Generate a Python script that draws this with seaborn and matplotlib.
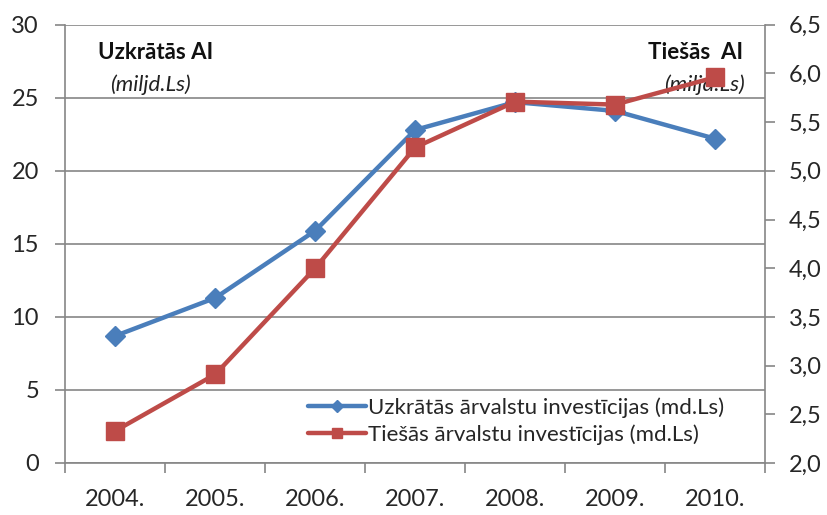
import matplotlib
matplotlib.use("Agg")
import matplotlib.pyplot as plt
import numpy as np
import pandas as pd
import seaborn as sns

years = ["2004.", "2005.", "2006.", "2007.", "2008.", "2009.", "2010."]
uzkratas = [8.7, 11.3, 15.9, 22.8, 24.7, 24.1, 22.2]
tiesas = [2.33, 2.91, 4.00, 5.24, 5.71, 5.68, 5.96]

left_ticks = [0, 5, 10, 15, 20, 25, 30]
right_ticks = [2.0, 2.5, 3.0, 3.5, 4.0, 4.5, 5.0, 5.5, 6.0, 6.5]

BLUE = "#4a7ebb"
RED = "#be4b48"
GRID = "#868686"

sns.set_style("white")
plt.rcParams["font.family"] = ["Lato", "DejaVu Sans"]

df = pd.DataFrame({"year": years, "uzk": uzkratas, "ties": tiesas})
x = np.arange(len(years)) + 0.5

fig = plt.figure(figsize=(8.27, 5.15), dpi=100)
ax = fig.add_axes([0.079, 0.101, 0.846, 0.851])
ax2 = ax.twinx()

l1, = ax.plot(x, df["uzk"], color=BLUE, lw=3.2, marker="D", ms=10,
              label="Uzkrātās ārvalstu investīcijas (md.Ls)")
l2, = ax2.plot(x, df["ties"], color=RED, lw=3.2, marker="s", ms=13,
               label="Tiešās ārvalstu investīcijas (md.Ls)")

ax.set_xlim(0, len(years))
ax.set_ylim(0, 30)
ax2.set_ylim(2.0, 6.5)
ax.set_yticks(left_ticks)
ax.set_yticklabels([str(v) for v in left_ticks])
ax2.set_yticks(right_ticks)
ax2.set_yticklabels([f"{v:.1f}".replace(".", ",") for v in right_ticks])
ax.set_xticks(np.arange(len(years) + 1))
ax.set_xticklabels([])
ax.set_xticks(x, minor=True)
ax.set_xticklabels(years, minor=True)

ax.yaxis.grid(True, color=GRID, lw=1.2)
ax.set_axisbelow(True)
for a in (ax, ax2):
    a.spines["top"].set_visible(False)
    for s in ("left", "right", "bottom"):
        a.spines[s].set_color(GRID)
        a.spines[s].set_linewidth(1.2)
ax.spines["right"].set_visible(False)
ax2.spines["left"].set_visible(False)
ax2.spines["bottom"].set_visible(False)

ax.tick_params(axis="y", which="major", length=7, color=GRID, width=1.2,
               labelsize=17, pad=12, direction="out", left=True)
ax.tick_params(axis="x", which="major", length=7, color=GRID, width=1.2,
               direction="out", bottom=True)
ax.tick_params(axis="x", which="minor", length=0, labelsize=17, pad=19)
ax2.tick_params(axis="y", length=7, color=GRID, width=1.2, labelsize=17,
                pad=10, direction="out", right=True)

ax.text(0.129, 0.936, "Uzkrātās AI", transform=ax.transAxes, fontsize=16,
        fontweight="bold", ha="center", va="center", color="#111111")
ax.text(0.122, 0.863, "(miljd.Ls)", transform=ax.transAxes, fontsize=16,
        style="italic", ha="center", va="center", color="#222222")
ax.text(0.9, 0.936, "Tiešās  AI", transform=ax.transAxes, fontsize=16,
        fontweight="bold", ha="center", va="center", color="#111111")
ax.text(0.914, 0.863, "(miljd.Ls)", transform=ax.transAxes, fontsize=16,
        style="italic", ha="center", va="center", color="#222222")

ax.legend(handles=[l1, l2], loc="lower right", bbox_to_anchor=(0.97, -0.005),
          frameon=False, fontsize=16, handlelength=2.6, handletextpad=0.1,
          labelspacing=0.3, markerscale=0.6)

fig.savefig("out.png", dpi=100)
